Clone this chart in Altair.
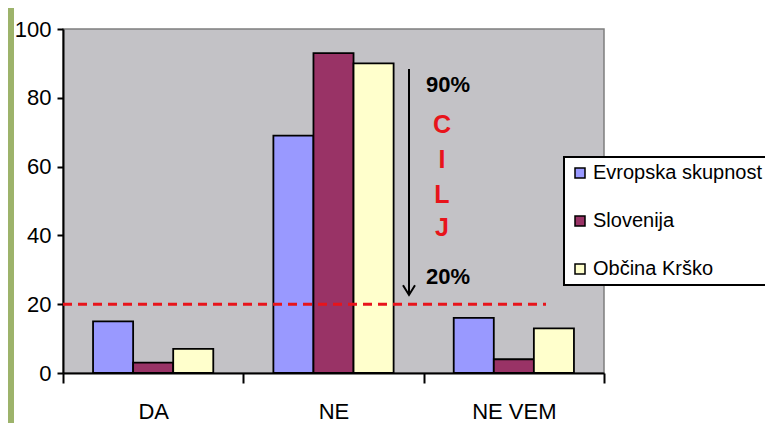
import altair as alt
import pandas as pd

# ---- data ----
categories = ["DA", "NE", "NE VEM"]
series = ["Evropska skupnost", "Slovenija", "Občina Krško"]
evropska = [15, 69, 16]
slovenija = [3, 93, 4]
krsko = [7, 90, 13]
series_colors = ["#9999FF", "#993366", "#FFFFCC"]

target_line = 20
arrow_top = 88.4
arrow_bottom = 22.7
pct_labels = ["90%", "20%"]
pct_y = [83.7, 27.9]
goal_letters = ["C", "I", "L", "J"]
goal_y = [72.1, 61.9, 51.7, 42.2]
y_ticks = [0, 20, 40, 60, 80, 100]

FONT = "Liberation Sans"
W, H = 541, 344

rows = []
for s, vals in zip(series, [evropska, slovenija, krsko]):
    for c, v in zip(categories, vals):
        rows.append({"kategorija": c, "serija": s, "vrednost": v})
df = pd.DataFrame(rows)

yscale = alt.Scale(domain=[0, 100], nice=False)

strip = alt.Chart(pd.DataFrame({"a": [0]})).mark_rect(color="#9DB36B").encode(
    x=alt.value(-55), x2=alt.value(-49), y=alt.value(-21), y2=alt.value(394)
)

bars = alt.Chart(df).mark_bar(stroke="black", strokeWidth=1.8).encode(
    x=alt.X(
        "kategorija:N",
        sort=categories,
        scale=alt.Scale(paddingInner=0, paddingOuter=0),
        axis=alt.Axis(title=None, labelAngle=0, tickBand="extent"),
    ),
    xOffset=alt.XOffset("serija:N", sort=series,
                        scale=alt.Scale(paddingOuter=0.75, paddingInner=0)),
    y=alt.Y("vrednost:Q", scale=yscale, title=None,
            axis=alt.Axis(values=y_ticks, title=None)),
    color=alt.Color(
        "serija:N",
        scale=alt.Scale(domain=series, range=series_colors),
        legend=alt.Legend(
            title=None, orient="none", legendX=501, legendY=128,
            strokeColor="black", fillColor="white", padding=6,
            symbolType="square", symbolSize=100, symbolStrokeColor="black",
            symbolStrokeWidth=1.5, labelFont=FONT, labelFontSize=20,
            labelColor="black", rowPadding=28, labelOffset=3, labelLimit=300,
        ),
    ),
)

dashed = alt.Chart(pd.DataFrame({"t": [target_line]})).mark_rule(
    color="#E8141B", strokeWidth=3, strokeDash=[9, 6]
).encode(y=alt.Y("t:Q", scale=yscale, title=None), x=alt.value(0), x2=alt.value(483))

arrow = alt.Chart(pd.DataFrame({"a": [arrow_top], "b": [arrow_bottom]})).mark_rule(
    color="black", strokeWidth=2
).encode(y=alt.Y("a:Q", scale=yscale, title=None), y2="b:Q", x=alt.value(346))

head = alt.Chart(pd.DataFrame({"b": [arrow_bottom]})).mark_point(
    shape="M-1,-1.6L0,0L1,-1.6", filled=False, color="black", strokeWidth=2,
    size=144, opacity=1,
).encode(y=alt.Y("b:Q", scale=yscale, title=None), x=alt.value(346))

pct = alt.Chart(pd.DataFrame({"l": pct_labels, "y": pct_y})).mark_text(
    font=FONT, fontSize=22, fontWeight="bold", color="black"
).encode(y=alt.Y("y:Q", scale=yscale, title=None), x=alt.value(385), text="l:N")

letters = alt.Chart(pd.DataFrame({"l": goal_letters, "y": goal_y})).mark_text(
    font=FONT, fontSize=25, fontWeight="bold", color="#E8141B"
).encode(y=alt.Y("y:Q", scale=yscale, title=None), x=alt.value(379), text="l:N")

chart = alt.layer(strip, bars, dashed, arrow, head, pct, letters).properties(
    width=W, height=H,
    autosize=alt.AutoSizeParams(type="none"),
    padding={"left": 55, "top": 21, "right": 161, "bottom": 50},
    background="white",
).configure_view(
    fill="#C3C2C6", stroke="#7F7F7F", strokeWidth=1.5
).configure_legend(
    strokeWidth=2
).configure_axisY(
    grid=False, tickSize=6, tickWidth=2, tickColor="black",
    domainColor="black", domainWidth=2, labelFont=FONT, labelFontSize=22,
    labelColor="black", labelPadding=6,
).configure_axisX(
    tickSize=10, tickWidth=2, tickColor="black", domainColor="black",
    domainWidth=2, labelFont=FONT, labelFontSize=22, labelColor="black",
    labelPadding=18,
)

chart.save("out.html", embed_options={"renderer": "svg", "actions": False})
